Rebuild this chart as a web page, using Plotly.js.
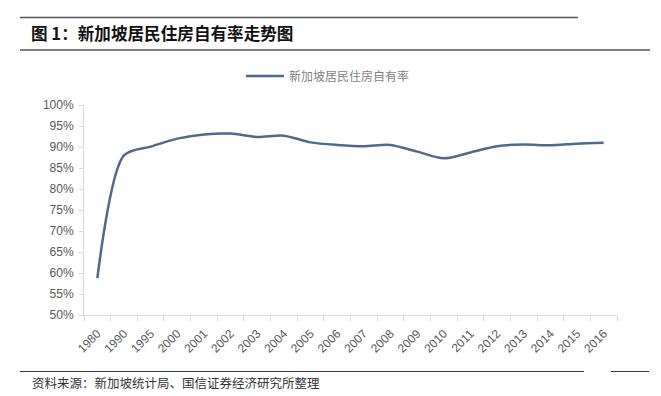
<!DOCTYPE html>
<html>
<head>
<meta charset="utf-8">
<script src="https://cdn.plot.ly/plotly-3.0.1.min.js"></script>
<style>
html,body{margin:0;padding:0;background:#fff;}
#chart{width:661px;height:396px;}
</style>
</head>
<body>
<div id="chart"></div>
<script>
const years = ['1980','1990','1995','2000','2001','2002','2003','2004','2005','2006','2007','2008','2009','2010','2011','2012','2013','2014','2015','2016'];
const ownershipRate = [58.8, 88.0, 90.1, 92.0, 93.0, 93.2, 92.4, 92.7, 91.1, 90.5, 90.2, 90.5, 88.9, 87.3, 88.7, 90.2, 90.6, 90.4, 90.8, 91.0];
const seriesName = '新加坡居民住房自有率';
const titleText = '图 1：新加坡居民住房自有率走势图';
const sourceText = '资料来源：新加坡统计局、国信证券经济研究所整理';
const yTickVals = [50,55,60,65,70,75,80,85,90,95,100];
const yTickText = yTickVals.map(v => v + '%');

// pixel helpers for decorations (plot area: x 84..617, y 105..315)
const L = 84, R = 617, T = 105, B = 315;
const px = x => (x - L) / (R - L);
const py = y => (B - y) / (B - T);

const trace = {
  type: 'scatter',
  mode: 'lines',
  x: years,
  y: ownershipRate,
  name: seriesName,
  line: {color: '#4E6A8D', width: 2.5, shape: 'spline', smoothing: 0.8},
  hoverinfo: 'skip'
};

const axisFont = {family: 'Liberation Sans, Arial, sans-serif', size: 12, color: '#595959'};

const layout = {
  width: 661, height: 396,
  margin: {l: L, r: 661 - R, t: T, b: 396 - B, pad: 0},
  paper_bgcolor: '#ffffff',
  plot_bgcolor: '#ffffff',
  showlegend: true,
  title: {
    text: '<b>' + titleText + '</b>',
    font: {family: 'Noto Sans CJK SC, sans-serif', size: 16.6, color: '#111111'},
    xref: 'container', yref: 'container',
    x: 31 / 661, xanchor: 'left',
    y: 1 - 34 / 396, yanchor: 'middle'
  },
  legend: {
    orientation: 'h',
    x: px(241), xanchor: 'left',
    y: py(76), yanchor: 'middle',
    font: {family: 'Noto Sans CJK SC, sans-serif', size: 12, color: '#7f7f7f'},
    bgcolor: 'rgba(0,0,0,0)',
    itemwidth: 38
  },
  xaxis: {
    type: 'category',
    range: [-0.5, years.length - 0.5],
    tickson: 'boundaries',
    ticks: 'outside', ticklen: 5, tickcolor: '#d9d9d9', tickwidth: 1,
    showline: true, linecolor: '#d9d9d9', linewidth: 1,
    showgrid: false, zeroline: false,
    tickangle: -45,
    tickfont: axisFont,
    ticklabelstandoff: 6,
    fixedrange: true
  },
  yaxis: {
    range: [50, 100],
    tickvals: yTickVals, ticktext: yTickText,
    ticks: 'outside', ticklen: 4, tickcolor: '#d9d9d9', tickwidth: 1,
    showline: true, linecolor: '#d9d9d9', linewidth: 1,
    showgrid: false, zeroline: false,
    tickfont: axisFont,
    ticklabelstandoff: 3,
    fixedrange: true
  },
  shapes: [
    {type: 'line', xref: 'paper', yref: 'paper', x0: px(20), x1: px(578), y0: py(17.5), y1: py(17.5), line: {color: '#555555', width: 1.5}},
    {type: 'line', xref: 'paper', yref: 'paper', x0: px(20), x1: px(650), y0: py(50), y1: py(50), line: {color: '#555555', width: 1.5}},
    {type: 'line', xref: 'paper', yref: 'paper', x0: px(20), x1: px(584), y0: py(371.5), y1: py(371.5), line: {color: '#333333', width: 1.2}},
    {type: 'line', xref: 'paper', yref: 'paper', x0: px(611), x1: px(649), y0: py(371.5), y1: py(371.5), line: {color: '#333333', width: 1.2}}
  ],
  annotations: [
    {
      text: sourceText,
      xref: 'paper', yref: 'paper',
      x: px(30), xanchor: 'left',
      y: py(382), yanchor: 'middle',
      showarrow: false,
      font: {family: 'Noto Sans CJK SC, sans-serif', size: 12.5, color: '#333333'}
    }
  ]
};

Plotly.newPlot('chart', [trace], layout, {staticPlot: true, displayModeBar: false});
</script>
</body>
</html>
